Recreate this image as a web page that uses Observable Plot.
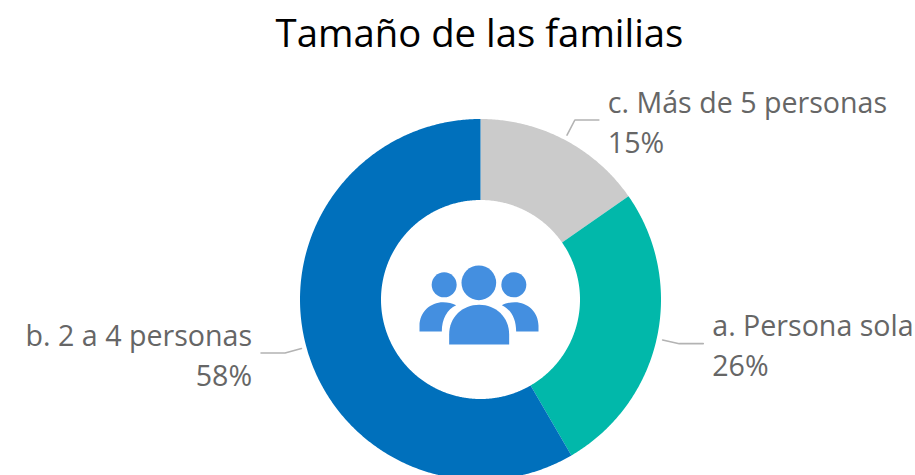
<!DOCTYPE html>
<html lang="es">
<head>
<meta charset="utf-8">
<title>Tamaño de las familias</title>
<script src="https://cdn.jsdelivr.net/npm/d3@7"></script>
<script src="https://cdn.jsdelivr.net/npm/@observablehq/plot@0.6"></script>
<style>
  html, body { margin: 0; padding: 0; background: #fff; overflow: hidden; }
  #title { height: 62px; box-sizing: border-box; padding-left: 44px; text-align: center; font: 38.3px/64px "Open Sans", sans-serif; color: #000; }
  #chart svg { display: block; }
</style>
</head>
<body>
<div id="title">Tamaño de las familias</div>
<div id="chart"></div>
<script>
// Data (clockwise from 12 o'clock)
const categories = ["c. Más de 5 personas", "a. Persona sola", "b. 2 a 4 personas"];
const shares = [15.3, 26.3, 58.4];
const shareLabels = ["15%", "26%", "58%"];
const colors = ["#cbcbcb", "#01b8aa", "#0070bc"];

// Geometry of the ring, in plot units (1 unit = 1 px)
const outerR = 180.5, innerR = 99.5, leaderStart = 186, leaderElbow = 203, leaderRun = 24;
const polar = (r, a) => [r * Math.sin(a), r * Math.cos(a)];

const pie = d3.pie().sort(null).value((_, i) => shares[i])(categories);

const ring = pie.flatMap((s, i) => {
  const n = Math.ceil((s.endAngle - s.startAngle) / (Math.PI / 360));
  return d3.range(n + 1).map(k => {
    const a = s.startAngle + (s.endAngle - s.startAngle) * k / n;
    const [x1, y1] = polar(outerR, a), [x2, y2] = polar(innerR, a);
    return {category: categories[i], x1, y1, x2, y2};
  });
});

const leaders = [], labels = [];
pie.forEach((s, i) => {
  const mid = (s.startAngle + s.endAngle) / 2;
  const side = Math.sin(mid) >= 0 ? 1 : -1;
  const [x0, y0] = polar(leaderStart, mid), [x1, y1] = polar(leaderElbow, mid);
  const x2 = x1 + side * leaderRun;
  leaders.push({id: i, x: x0, y: y0}, {id: i, x: x1, y: y1}, {id: i, x: x2, y: y1});
  labels.push({text: categories[i] + "\n" + shareLabels[i], x: x2 + side * 9, y: y1, side});
});

const icon = "data:image/svg+xml;utf8," + encodeURIComponent(
  `<svg xmlns="http://www.w3.org/2000/svg" viewBox="0 0 480 330" fill="#448fe0">
    <circle cx="235" cy="97" r="52"/><circle cx="131" cy="103" r="37.5"/><circle cx="340" cy="103" r="37.5"/>
    <path d="M146 282V252C146 200 186 163 236 163C286 163 326 200 326 252V282Z"/>
    <path d="M57 243V226C57 184 90 155 128 155C142 155 156 158 167 164C140 176 124 205 124 243Z"/>
    <path d="M414 243V226C414 184 381 155 343 155C329 155 315 158 304 164C331 176 347 205 347 243Z"/>
  </svg>`);

const labelMark = (side, textAnchor) => Plot.text(labels.filter(d => d.side === side), {
  x: "x", y: "y", text: "text", textAnchor, lineAnchor: "middle",
  dy: 0, lineHeight: 1.4, fontSize: 28.6, fill: "#666666", fontFamily: "'Open Sans', sans-serif"
});

const plot = Plot.plot({
  width: 915,
  height: 413,
  margin: 0,
  x: {domain: [-480.5, 434.5], range: [0, 915], axis: null},
  y: {domain: [237.5, -175.5], range: [0, 413], axis: null},
  color: {domain: categories, range: colors},
  style: {background: "#fff"},
  marks: [
    Plot.area(ring, {x1: "x1", y1: "y1", x2: "x2", y2: "y2", z: "category", fill: "category"}),
    Plot.line(leaders, {x: "x", y: "y", z: "id", stroke: "#b3b3b3", strokeWidth: 1.6, strokeLinejoin: "round"}),
    labelMark(1, "start"),
    labelMark(-1, "end"),
    Plot.image([{x: -0.5, y: -5.5}], {x: "x", y: "y", src: () => icon, width: 160, height: 110, preserveAspectRatio: "none"})
  ]
});
document.getElementById("chart").append(plot);
</script>
</body>
</html>
